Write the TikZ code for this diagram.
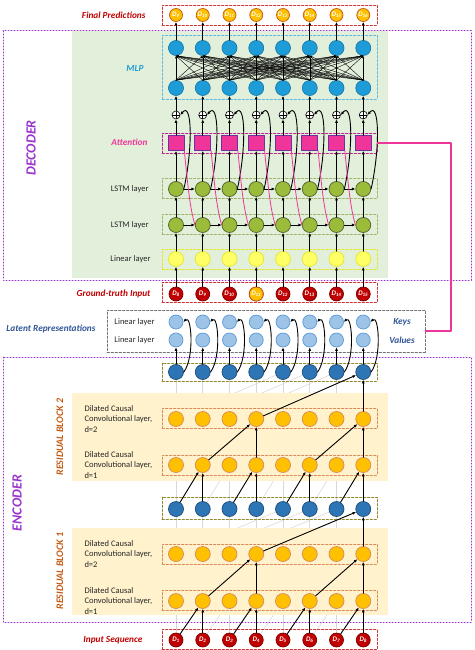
\documentclass[tikz,border=0pt]{standalone}
\usepackage{fontspec}
\setmainfont{Carlito}
\usetikzlibrary{arrows.meta}
\pgfdeclarelayer{bg}
\pgfsetlayers{bg,main}

\definecolor{predorange}{HTML}{FFC000}
\definecolor{prededge}{HTML}{C55A11}
\definecolor{mlpblue}{HTML}{1E9CD7}
\definecolor{attpink}{HTML}{F0359A}
\definecolor{attedge}{HTML}{7030A0}
\definecolor{lstmgreen}{HTML}{9BBB3B}
\definecolor{lstmedge}{HTML}{4F6228}
\definecolor{linyellow}{HTML}{FFFF66}
\definecolor{linedge}{HTML}{E6E62E}
\definecolor{gtred}{HTML}{C00000}
\definecolor{gtedge}{HTML}{7F0000}
\definecolor{keyblue}{HTML}{9DC3E6}
\definecolor{keyedge}{HTML}{5B9BD5}
\definecolor{encblue}{HTML}{2E75B6}
\definecolor{encedge}{HTML}{1F4E79}
\definecolor{decgreen}{HTML}{E2EFDA}
\definecolor{resyellow}{HTML}{FFF2CC}
\definecolor{framepurple}{HTML}{9933CC}
\definecolor{titlered}{HTML}{C00000}
\definecolor{titleblue}{HTML}{2F5597}
\definecolor{resbrown}{HTML}{C55A11}

\newcommand{\dlab}[1]{\textcolor{white}{\fontsize{7}{7}\selectfont\textbf{\textit{D}}\textsubscript{\textbf{\textit{#1}}}}}

\tikzset{
  unit/.style={circle,inner sep=0pt,minimum size=15pt,line width=0.7pt},
  pred/.style={unit,minimum size=13pt,fill=predorange,draw=prededge},
  mlp/.style={unit,fill=mlpblue,draw=mlpblue!80!black},
  att/.style={rectangle,minimum width=16pt,minimum height=15pt,inner sep=0pt,fill=attpink,draw=attedge,line width=0.7pt},
  lstm/.style={unit,fill=lstmgreen,draw=lstmedge},
  lin/.style={unit,fill=linyellow,draw=linedge},
  gt/.style={unit,minimum size=14pt,fill=gtred,draw=gtedge},
  kv/.style={unit,minimum size=14pt,fill=keyblue,draw=keyedge},
  enc/.style={unit,fill=encblue,draw=encedge},
  conv/.style={unit,fill=predorange,draw=prededge!70},
  plus/.style={circle,draw,fill=white,inner sep=0pt,minimum size=8pt,line width=0.6pt,
    path picture={\draw[line width=0.6pt] (path picture bounding box.north) -- (path picture bounding box.south)
      (path picture bounding box.west) -- (path picture bounding box.east);}},
  rowbox/.style={draw,dash pattern=on 2.5pt off 1.5pt,minimum width=215pt,minimum height=20pt,inner sep=0pt,line width=0.7pt},
  arr/.style={-{Latex[length=3.5pt,width=3pt]},line width=0.9pt},
  thinarr/.style={-{Latex[length=2.5pt,width=2pt]},line width=0.4pt},
  grayline/.style={black!15,line width=0.6pt},
  title/.style={font=\bfseries\itshape\fontsize{9.3}{10}\selectfont},
  small/.style={font=\fontsize{8.5}{10.5}\selectfont,text=black!85},
  bigtitle/.style={rotate=90,font=\bfseries\itshape\fontsize{14}{14}\selectfont,text=framepurple},
  restitle/.style={rotate=90,font=\bfseries\itshape\fontsize{10}{10}\selectfont,text=resbrown},
}

\begin{document}
\begin{tikzpicture}[x=1pt,y=1pt,line join=round,line cap=round]
\useasboundingbox (0,0) rectangle (474,-650);

% backgrounds and frames
\fill[decgreen] (72,-31) rectangle (388,-278);
\fill[resyellow] (72,-393) rectangle (388,-481);
\fill[resyellow] (72,-528) rectangle (388,-615);
\draw[framepurple,dotted,line width=1pt] (3,-31) rectangle (471,-280);
\draw[framepurple,dotted,line width=1pt] (3,-357) rectangle (471,-622);

% dashed row boxes
\node[rowbox,draw=titlered!80] (predbox) at (269.5,-15) {};
\node[rowbox,draw=mlpblue!70,minimum height=64pt] (mlpbox) at (269.5,-67) {};
\node[rowbox,draw=attpink!60!violet] (attbox) at (269.5,-143) {};
\node[rowbox,draw=lstmgreen!80!black!70] (lstmboxa) at (269.5,-188.5) {};
\node[rowbox,draw=lstmgreen!80!black!70] (lstmboxb) at (269.5,-224.5) {};
\node[rowbox,draw=linedge] (linbox) at (269.5,-259) {};
\node[rowbox,draw=titlered!80] (gtbox) at (269.5,-292.5) {};
\node[rowbox,draw=black!55,minimum width=318pt,minimum height=42pt] (latbox) at (266,-331) {};
\node[rowbox,draw=olive!70!gray,minimum height=18pt] (encboxb) at (269.5,-372) {};
\node[rowbox,draw=prededge!70] (resbd) at (269.5,-418.5) {};
\node[rowbox,draw=prededge!70] (resbc) at (269.5,-465) {};
\node[rowbox,draw=olive!70!gray,minimum height=22pt] (encboxa) at (269.5,-508) {};
\node[rowbox,draw=prededge!70] (resab) at (269.5,-554) {};
\node[rowbox,draw=prededge!70] (resaa) at (269.5,-600.5) {};
\node[rowbox,draw=titlered!80] (inbox) at (269.5,-639.5) {};

% units
\foreach \i in {1,...,8} {
  \pgfmathsetmacro{\x}{176+26.75*(\i-1)}
  \pgfmathtruncatemacro{\n}{\i+8}
  \pgfmathtruncatemacro{\g}{\i+7}
  \node[pred] (p\i) at (\x,-15) {\dlab{\n}};
  \node[mlp] (mt\i) at (\x,-48) {};
  \node[mlp] (mb\i) at (\x,-88) {};
  \node[plus] (s\i) at (\x,-115) {};
  \node[att] (a\i) at (\x,-143) {};
  \node[lstm] (la\i) at (\x,-189) {};
  \node[lstm] (lb\i) at (\x,-225) {};
  \node[lin] (li\i) at (\x,-259) {};
  \node[gt] (g\i) at (\x,-294) {\dlab{\g}};
  \node[kv] (k\i) at (\x,-322) {};
  \node[kv] (v\i) at (\x,-340) {};
  \node[enc] (eb\i) at (\x,-372) {};
  \node[conv] (bb\i) at (\x,-419) {};
  \node[conv] (ba\i) at (\x,-465) {};
  \node[enc] (ea\i) at (\x,-509) {};
  \node[conv] (ab\i) at (\x,-554) {};
  \node[conv] (aa\i) at (\x,-601) {};
  \node[gt] (in\i) at (\x,-640) {\dlab{\i}};
}
% the one ground-truth value that is highlighted
\node[pred,minimum size=14pt] (g4) at (g4) {\dlab{11}};

% decoder connections
\foreach \i in {1,...,8} {
  \draw[arr] (mt\i) -- (p\i);
  \foreach \j in {1,...,8}
    \draw[thinarr] (mb\i.north) -- (mt\j.south);
  \draw[arr] (s\i) -- (mb\i);
  \draw[arr] (a\i) -- (s\i);
  \draw[arr] (la\i) -- (a\i);
  \draw[arr] (lb\i) -- (la\i);
  \draw[arr] (li\i) -- (lb\i);
  \draw[arr] (g\i) -- (li\i);
  \draw[arr] (la\i.east) .. controls +(9,40) and +(12,15) .. (s\i.east);
}
\foreach \i [evaluate=\i as \j using int(\i+1)] in {1,...,7} {
  \draw[arr] (la\i) -- (la\j);
  \draw[arr] (lb\i) -- (lb\j);
  \draw[attpink,line width=0.8pt] (a\i.south east) .. controls +(4,-40) and +(-5,18) .. (lb\j.west);
}
\coordinate (turn) at (451,-143);
\draw[draw=attpink,line width=1.3pt] (attbox.east) -- (turn) |- (latbox.east);

% keys and values
\foreach \i in {1,...,8} {
  \draw[arr] (eb\i) -- (v\i);
  \draw[arr] (eb\i.east) .. controls +(11,15) and +(8,8) .. (k\i.east);
}

% faint dilated causal links
\begin{pgfonlayer}{bg}
  \foreach \i in {1,...,8}
    \draw[grayline] (in\i.center) -- (eb\i.center);
  \foreach \i [evaluate=\i as \j using int(\i-1)] in {2,...,8} {
    \draw[grayline] (in\j.center) -- (aa\i.center);
    \draw[grayline] (ea\j.center) -- (ba\i.center);
  }
  \foreach \i [evaluate=\i as \j using int(\i-2)] in {3,...,8} {
    \draw[grayline] (aa\j.center) -- (ab\i.center);
    \draw[grayline] (ba\j.center) -- (bb\i.center);
  }
  \foreach \i [evaluate=\i as \j using int(\i-4)] in {5,...,8} {
    \draw[grayline] (ab\j.center) -- (ea\i.center);
    \draw[grayline] (bb\j.center) -- (eb\i.center);
  }
\end{pgfonlayer}

% receptive field of the last step
\foreach \i [evaluate=\i as \j using int(\i-1)] in {2,4,6,8} {
  \draw[arr] (in\i) -- (aa\i);
  \draw[arr] (in\j) -- (aa\i);
  \draw[arr] (ea\i) -- (ba\i);
  \draw[arr] (ea\j) -- (ba\i);
}
\foreach \i [evaluate=\i as \j using int(\i-2)] in {4,8} {
  \draw[arr] (aa\i) -- (ab\i);
  \draw[arr] (aa\j) -- (ab\i);
  \draw[arr] (ba\i) -- (bb\i);
  \draw[arr] (ba\j) -- (bb\i);
}
\draw[arr] (ab8) -- (ea8);
\draw[arr] (ab4) -- (ea8);
\draw[arr] (bb8) -- (eb8);
\draw[arr] (bb4) -- (eb8);

% labels
\node[title,text=titlered,anchor=east] (tpred) at (149,-15) {Final Predictions};
\node[title,text=mlpblue] (tmlp) at (135,-68) {MLP};
\node[title,text=attpink,anchor=east] (tatt) at (151,-142) {Attention};
\node[small,anchor=east] (tlstma) at (152,-189) {LSTM layer};
\node[small,anchor=east] (tlstmb) at (152,-225) {LSTM layer};
\node[small,anchor=east] (tlin) at (154,-259) {Linear layer};
\node[title,text=titlered,anchor=east] (tgt) at (154,-294) {Ground-truth Input};
\node[title,text=titleblue] (tlat) at (51,-329) {Latent Representations};
\node[small,anchor=east] (tkey) at (158,-322) {Linear layer};
\node[small,anchor=east] (tval) at (158,-340) {Linear layer};
\node[title,text=titleblue] (tkeys) at (402,-322) {Keys};
\node[title,text=titleblue] (tvals) at (402,-340) {Values};
\node[small,anchor=west,align=left] (tbd) at (81,-419) {Dilated Causal\\Convolutional layer,\\d=2};
\node[small,anchor=west,align=left] (tbc) at (81,-465) {Dilated Causal\\Convolutional layer,\\d=1};
\node[small,anchor=west,align=left] (tab) at (81,-554) {Dilated Causal\\Convolutional layer,\\d=2};
\node[small,anchor=west,align=left] (taa) at (81,-601) {Dilated Causal\\Convolutional layer,\\d=1};
\node[title,text=titlered,anchor=east] (tin) at (146,-640) {Input Sequence};
\node[bigtitle] (tdec) at (31,-148) {DECODER};
\node[bigtitle] (tenc) at (17,-503) {ENCODER};
\node[restitle] (tresb) at (60,-437) {RESIDUAL BLOCK 2};
\node[restitle] (tresa) at (60,-571) {RESIDUAL BLOCK 1};
\end{tikzpicture}
\end{document}
